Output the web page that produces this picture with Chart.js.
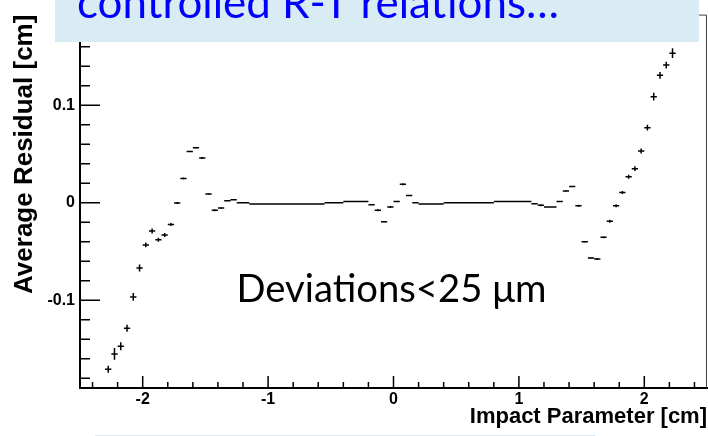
<!DOCTYPE html>
<html><head><meta charset="utf-8">
<script src="https://cdn.jsdelivr.net/npm/chart.js@4.4.1/dist/chart.umd.min.js"></script>
<style>html,body{margin:0;padding:0;background:#fff;}#wrap{position:relative;width:708px;height:436px;}canvas{display:block;}</style>
</head><body><div id="wrap"><canvas id="c" width="708" height="436"></canvas></div>
<script>
// ---- data ----
const binWidth = 0.05;
const binCenters = [
 -2.275,-2.225,-2.175,-2.125,-2.075,-2.025,-1.975,-1.925,-1.875,-1.825,
 -1.775,-1.725,-1.675,-1.625,-1.575,-1.525,-1.475,-1.425,-1.375,-1.325,
 -1.275,-1.225,-1.175,-1.125,-1.075,-1.025,-0.975,-0.925,-0.875,-0.825,
 -0.775,-0.725,-0.675,-0.625,-0.575,-0.525,-0.475,-0.425,-0.375,-0.325,
 -0.275,-0.225,-0.175,-0.125,-0.075,-0.025,0.025,0.075,0.125,0.175,
 0.225,0.275,0.325,0.375,0.425,0.475,0.525,0.575,0.625,0.675,
 0.725,0.775,0.825,0.875,0.925,0.975,1.025,1.075,1.125,1.175,
 1.225,1.275,1.325,1.375,1.425,1.475,1.525,1.575,1.625,1.675,
 1.725,1.775,1.825,1.875,1.925,1.975,2.025,2.075,2.125,2.175,
 2.225
];
const residuals = [
 -0.1708,-0.1550,-0.1472,-0.1287,-0.0966,-0.0669,-0.0432,-0.0290,-0.0380,-0.0330,
 -0.0223,-0.0003,0.0250,0.0527,0.0564,0.0460,0.0091,-0.0077,-0.0054,0.0020,
 0.0030,0.0000,0.0000,-0.0013,-0.0013,-0.0013,-0.0013,-0.0013,-0.0013,-0.0013,
 -0.0013,-0.0013,-0.0013,-0.0013,-0.0013,0.0000,0.0000,0.0000,0.0014,0.0014,
 0.0014,0.0014,-0.0020,-0.0077,-0.0196,-0.0044,0.0014,0.0190,0.0075,0.0000,
 -0.0013,-0.0013,-0.0013,-0.0013,0.0000,0.0000,0.0000,0.0000,0.0000,0.0000,
 0.0000,0.0000,0.0014,0.0014,0.0014,0.0014,0.0014,0.0014,-0.0010,-0.0025,
 -0.0044,-0.0044,0.0014,0.0120,0.0166,-0.0030,-0.0400,-0.0567,-0.0578,-0.0355,
 -0.0190,-0.0030,0.0105,0.0267,0.0350,0.0531,0.0770,0.1088,0.1307,0.1412,
 0.1534
];
const residualErrors = [
 0.0035,0.0060,0.0040,0.0035,0.0040,0.0035,0.0025,0.0025,0.0020,0.0020,
 0.0015,0.0010,0.0010,0.0005,0.0005,0.0010,0.0005,0.0010,0.0005,0.0005,
 0,0,0,0,0,0,0,0,0,0,
 0,0,0,0,0,0,0,0,0,0,
 0,0,0,0.0010,0.0005,0.0010,0,0.0010,0,0,
 0,0,0,0,0,0,0,0,0,0,
 0,0,0,0,0,0,0,0,0,0.0010,
 0,0,0,0.0005,0,0.0010,0.0005,0.0005,0.0010,0.0010,
 0.0015,0.0015,0.0015,0.0020,0.0025,0.0025,0.0030,0.0040,0.0035,0.0035,
 0.0050
];
const xTickValues = [-2,-1,0,1,2];
const xTickLabels = ['-2','-1','0','1','2'];
const yTickValues = [-0.1,0,0.1];
const yTickLabels = ['-0.1','0','0.1'];
const xRange = [-2.5, 2.5];
const yRange = [-0.19, 0.193];
const xTitle = 'Impact Parameter [cm]';
const yTitle = 'Average Residual [cm]';
const captionText = 'controlled R-T relations\u2026';
const noteText = 'Deviations<25 \u03bcm';

// ---- build segment data (horizontal bin-width bars and vertical error bars) ----
const hSeg = [], vSeg = [];
binCenters.forEach((c, i) => {
  const v = residuals[i];
  hSeg.push({x: c - binWidth/2, y: v}, {x: c + binWidth/2, y: v}, {x: c, y: null});
  const e = residualErrors[i];
  if (e > 0) vSeg.push({x: c, y: v - e}, {x: c, y: v + e}, {x: c, y: null});
});

const AXIS_FONT = 'Liberation Sans, Arial, Helvetica, sans-serif';

const rootStyle = {
  id: 'rootStyle',
  afterDraw(chart) {
    const ctx = chart.ctx, a = chart.chartArea;
    const xs = chart.scales.x, ys = chart.scales.y;
    ctx.save();
    // frame (top/right thin)
    ctx.strokeStyle = '#444'; ctx.lineWidth = 1;
    ctx.beginPath();
    ctx.moveTo(a.left, a.top + 0.5); ctx.lineTo(a.right - 0.5, a.top + 0.5); ctx.lineTo(a.right - 0.5, a.bottom);
    ctx.stroke();
    // inward ticks
    ctx.strokeStyle = '#000'; ctx.lineWidth = 1.5;
    ctx.beginPath();
    for (let k = -9; k <= 9; k++) {
      const v = k * 0.02; if (v < yRange[0] || v > yRange[1]) continue;
      const py = ys.getPixelForValue(v);
      const len = (k % 5 === 0) ? 20 : 10;
      ctx.moveTo(a.left, py); ctx.lineTo(a.left + len, py);
    }
    for (let k = -12; k <= 12; k++) {
      const v = k * 0.2;
      const px = xs.getPixelForValue(v);
      const len = (k % 5 === 0) ? 12 : 6;
      ctx.moveTo(px, a.bottom); ctx.lineTo(px, a.bottom - len);
    }
    ctx.stroke();
    // caption box
    ctx.fillStyle = 'rgb(218,236,243)';
    ctx.fillRect(55, 0, 644, 42);
    ctx.fillStyle = '#0000ff';
    ctx.textBaseline = 'alphabetic'; ctx.textAlign = 'left';
    ctx.font = '40px Lato, "Open Sans", sans-serif';
    let w = ctx.measureText(captionText).width;
    const cs = 40 * 482 / w;
    ctx.font = cs.toFixed(2) + 'px Lato, "Open Sans", sans-serif';
    ctx.fillText(captionText, 77, 17.5);
    // note text
    ctx.fillStyle = '#000';
    ctx.font = '32px Lato, "Open Sans", sans-serif';
    w = ctx.measureText(noteText).width;
    const ns = 32 * 310 / w;
    ctx.font = ns.toFixed(2) + 'px Lato, "Open Sans", sans-serif';
    ctx.fillText(noteText, 236.5, 302.3);
    // faint box edge at bottom
    ctx.strokeStyle = 'rgb(221,233,240)'; ctx.lineWidth = 1;
    ctx.beginPath(); ctx.moveTo(95, 435.5); ctx.lineTo(595, 435.5); ctx.stroke();
    ctx.restore();
  }
};

new Chart(document.getElementById('c'), {
  type: 'scatter',
  data: {
    datasets: [
      {data: hSeg, showLine: true, spanGaps: false, borderColor: '#000', borderWidth: 1.5, pointRadius: 0, pointHoverRadius: 0, tension: 0},
      {data: vSeg, showLine: true, spanGaps: false, borderColor: '#000', borderWidth: 1.5, pointRadius: 0, pointHoverRadius: 0, tension: 0}
    ]
  },
  options: {
    responsive: false, animation: false, devicePixelRatio: 1,
    layout: {padding: {top: 9, right: 1, left: 0, bottom: 0}},
    plugins: {legend: {display: false}, tooltip: {enabled: false}, title: {display: false}},
    scales: {
      x: {
        type: 'linear', position: 'bottom', min: xRange[0], max: xRange[1],
        afterFit: s => { s.height = 48; },
        afterBuildTicks: s => { s.ticks = xTickValues.map(v => ({value: v})); },
        grid: {display: false, drawTicks: false},
        border: {display: true, color: '#000', width: 2},
        ticks: {padding: 2, color: '#000', maxRotation: 0, autoSkip: false,
          font: {family: AXIS_FONT, size: 16, weight: 'bold'},
          callback: v => xTickLabels[xTickValues.indexOf(v)]},
        title: {display: true, text: xTitle, align: 'end', color: '#000',
          font: {family: AXIS_FONT, size: 22, weight: 'bold'}, padding: {top: 0, bottom: 6}}
      },
      y: {
        type: 'linear', position: 'left', min: yRange[0], max: yRange[1],
        afterFit: s => { s.width = 80; },
        afterBuildTicks: s => { s.ticks = yTickValues.map(v => ({value: v})); },
        grid: {display: false, drawTicks: false},
        border: {display: true, color: '#000', width: 2},
        ticks: {padding: 5, color: '#000', autoSkip: false,
          font: {family: AXIS_FONT, size: 16, weight: 'bold'},
          callback: v => yTickLabels[yTickValues.indexOf(v)]},
        title: {display: true, text: yTitle, align: 'end', color: '#000',
          font: {family: AXIS_FONT, size: 26, weight: 'bold'}, padding: {top: 9, bottom: 0}}
      }
    }
  },
  plugins: [rootStyle]
});
</script>
</body></html>
